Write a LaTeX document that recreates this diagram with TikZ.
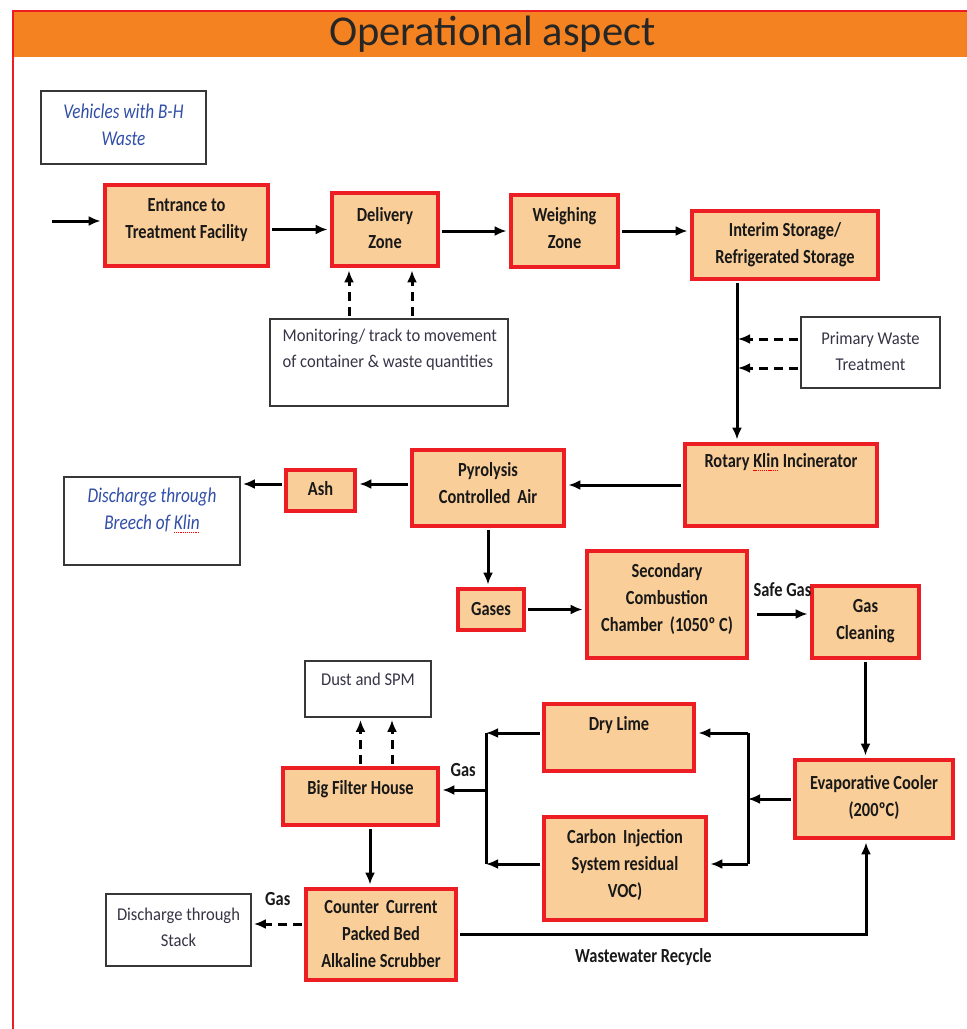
\documentclass[tikz,border=0pt]{standalone}
\usepackage{fontspec}
\setmainfont{Carlito}
\newfontfamily\cf[FakeStretch=0.82]{Carlito}
\newfontfamily\nf[FakeStretch=0.92]{Carlito}
\usetikzlibrary{arrows.meta,calc}
\definecolor{hdr}{RGB}{245,130,32}
\definecolor{bred}{RGB}{236,30,36}
\definecolor{bfill}{RGB}{250,206,152}
\definecolor{btxt}{RGB}{25,25,25}
\definecolor{gtxt}{RGB}{55,52,70}
\definecolor{itblue}{RGB}{48,78,168}
\definecolor{wedge}{RGB}{55,55,55}
\newcommand\spellsq[1]{\setbox0\hbox{#1}\rlap{\color{red}\raisebox{-3.5pt}{\hbox to \wd0{\xleaders\hbox{\rule{1.2pt}{0.9pt}\hskip0.9pt}\hfil}}}\box0\relax}
\begin{document}
\begin{tikzpicture}[x=1pt,y=-1pt,
 obox/.style={draw=bred,line width=4.8pt,fill=bfill,inner sep=0pt},
 wbox/.style={draw=wedge,line width=1.8pt,fill=white,inner sep=0pt},
 ot/.style={font=\cf\bfseries\fontsize{20}{27}\selectfont,text=btxt,align=center},
 bt/.style={font=\cf\itshape\fontsize{21}{27}\selectfont,text=itblue,align=center},
 gt/.style={font=\nf\fontsize{18}{26}\selectfont,text=gtxt,align=center},
 arr/.style={-{Latex[length=12pt,width=10pt]},line width=3pt,shorten >=2pt,shorten <=2pt},
 darr/.style={arr,dash pattern=on 9pt off 6pt},
 jline/.style={line width=3pt},
 lab/.style={font=\cf\bfseries\fontsize{20}{20}\selectfont,text=btxt}]
\useasboundingbox (0,0) rectangle (967,1029);
% frame and header
\fill[hdr] (13,11) rectangle (967,57);
\draw[bred,line width=2pt] (13,1029) -- (13,11) -- (967,11);
\node[font=\fontsize{42.5}{46}\selectfont,text=black!85] (title) at (492.5,34) {Operational aspect};
% orange boxes
\node[obox,minimum width=163,minimum height=81,label={[ot,yshift=5pt]center:{Entrance to\\Treatment Facility}}] (entr) at (186.5,225.5) {};
\node[obox,minimum width=106,minimum height=73,label={[ot,yshift=1.5pt]center:{Delivery\\Zone}}] (deliv) at (385,229.5) {};
\node[obox,minimum width=107,minimum height=72,label={[ot,yshift=3pt]center:{Weighing\\Zone}}] (weigh) at (564.5,231) {};
\node[obox,minimum width=186,minimum height=68,label={[ot]center:{Interim Storage/\\Refrigerated Storage}}] (inter) at (785,245) {};
\node[obox,minimum width=192,minimum height=82,label={[ot,yshift=23pt]center:{Rotary \spellsq{Klin} Incinerator}}] (rotary) at (781,485) {};
\node[obox,minimum width=152,minimum height=76,label={[ot,yshift=4.5pt]center:{Pyrolysis\\Controlled\, Air}}] (pyro) at (488,488) {};
\node[obox,minimum width=69,minimum height=41,label={[ot,yshift=1.5pt]center:{Ash}}] (ash) at (320.5,490.5) {};
\node[obox,minimum width=66,minimum height=41,label={[ot]center:{Gases}}] (gases) at (491,609.5) {};
\node[obox,minimum width=160,minimum height=107,label={[ot,yshift=6pt]center:{Secondary\\Combustion\\Chamber\, (1050º C)}}] (secc) at (667,604.5) {};
\node[obox,minimum width=107,minimum height=72,label={[ot,yshift=1pt]center:{Gas\\Cleaning}}] (gcln) at (865.5,622) {};
\node[obox,minimum width=158,minimum height=78,label={[ot,yshift=2pt]center:{Evaporative Cooler\\(200ºC)}}] (evap) at (874,799) {};
\node[obox,minimum width=150,minimum height=67,label={[ot,yshift=12.5pt]center:{Dry Lime}}] (dry) at (619,737.5) {};
\node[obox,minimum width=162,minimum height=103,label={[ot,yshift=3.5pt]center:{Carbon\, Injection\\System residual\\VOC)}}] (carb) at (625,868.5) {};
\node[obox,minimum width=155,minimum height=57,label={[ot,yshift=7.5pt]center:{Big Filter House}}] (bigf) at (360.5,796.5) {};
\node[obox,minimum width=150,minimum height=91,label={[ot]center:{Counter\, Current\\Packed Bed\\Alkaline Scrubber}}] (ccur) at (381,934.5) {};
% white boxes
\node[wbox,minimum width=165,minimum height=73,label={[bt,yshift=3pt]center:{Vehicles with B-H\\Waste}}] (veh) at (123.5,127.5) {};
\node[wbox,minimum width=238,minimum height=87,label={[gt,align=left,anchor=west,xshift=10pt,yshift=12.5pt]west:{Monitoring/ track to movement\\of container \& waste quantities}}] (mon) at (389,362.5) {};
\node[wbox,minimum width=139,minimum height=71,label={[gt,yshift=1pt]center:{Primary Waste\\Treatment}}] (prim) at (870.5,352.5) {};
\node[wbox,minimum width=176,minimum height=88,label={[bt,yshift=10.5pt]center:{Discharge through\\Breech of \spellsq{Klin}}}] (dbk) at (152,521) {};
\node[wbox,minimum width=126,minimum height=56,label={[gt,yshift=10pt]center:{Dust and SPM}}] (dust) at (368,689) {};
\node[wbox,minimum width=145,minimum height=72,label={[gt,yshift=2.5pt]center:{Discharge through\\Stack}}] (dst) at (178.5,930) {};
% connectors
\coordinate (in0) at (52,221);
\draw[arr,shorten <=0pt] (in0) -- (in0 -| entr.west);
\draw[arr] (entr.east |- deliv) -- (deliv.west);
\draw[arr] (deliv.east |- weigh) -- (weigh.west);
\draw[arr] (weigh.east) -- (weigh.east -| inter.west);
\coordinate (vx) at ([xshift=-48pt]inter.south);
\draw[arr] (vx) -- (vx |- rotary.north);
\draw[darr,shorten >=1pt] ([yshift=13.5pt]prim.west) -- ([yshift=13.5pt]prim.west -| vx);
\draw[darr,shorten >=1pt] ([yshift=-15.5pt]prim.west) -- ([yshift=-15.5pt]prim.west -| vx);
\draw[darr] ([xshift=-40pt]mon.north) -- ([xshift=-40pt]mon.north |- deliv.south);
\draw[darr] ([xshift=23pt]mon.north) -- ([xshift=23pt]mon.north |- deliv.south);
\draw[arr] (rotary.west) -- (rotary.west -| pyro.east);
\draw[arr] ([yshift=6.5pt]ash.east -| pyro.west) -- ([yshift=6.5pt]ash.east);
\draw[arr] ([yshift=6.5pt]ash.west) -- ([yshift=6.5pt]ash.west -| dbk.east);
\draw[arr] (pyro.south) -- (pyro.south |- gases.north);
\draw[arr] (gases.east) -- (gases.east -| secc.west);
\draw[arr] ([xshift=6pt,yshift=8pt]gcln.west -| secc.east) -- ([yshift=8pt]gcln.west) node[lab,midway,above=13pt] {Safe Gas};
\draw[arr] (gcln.south) -- (gcln.south |- evap.north);
\coordinate (jr1) at (748,733);
\coordinate (jr2) at (748,864);
\draw[jline] (jr1) -- (jr2);
\draw[arr,shorten >=0pt] (evap.west) -- (evap.west -| jr1);
\draw[arr,shorten <=0pt] (jr1) -- (jr1 -| dry.east);
\draw[arr,shorten <=0pt] (jr2) -- (jr2 -| carb.east);
\coordinate (jl1) at (486,733);
\coordinate (jl2) at (486,864);
\coordinate (jm) at (486,790);
\draw[jline] (jl1) -- (jl2);
\draw[arr,shorten >=0pt] (dry.west |- jl1) -- (jl1);
\draw[arr,shorten >=0pt] (carb.west |- jl2) -- (jl2);
\draw[arr,shorten <=0pt] (jm) -- (jm -| bigf.east) node[lab,midway,above=9pt] {Gas};
\draw[darr] (bigf.north) -- (bigf.north |- dust.south);
\draw[darr] ([xshift=31.5pt]bigf.north) -- ([xshift=31.5pt]bigf.north |- dust.south);
\draw[arr] ([xshift=9.5pt]bigf.south) -- ([xshift=9.5pt]bigf.south |- ccur.north);
\draw[darr] ([yshift=10.5pt]ccur.west) -- ([yshift=10.5pt]ccur.west -| dst.east) node[lab,midway,above=14pt] {Gas};
\draw[arr] (ccur.east) -| ([xshift=-8pt]evap.south) node[lab,pos=0.227,below=9pt] {Wastewater Recycle};
\end{tikzpicture}
\end{document}
